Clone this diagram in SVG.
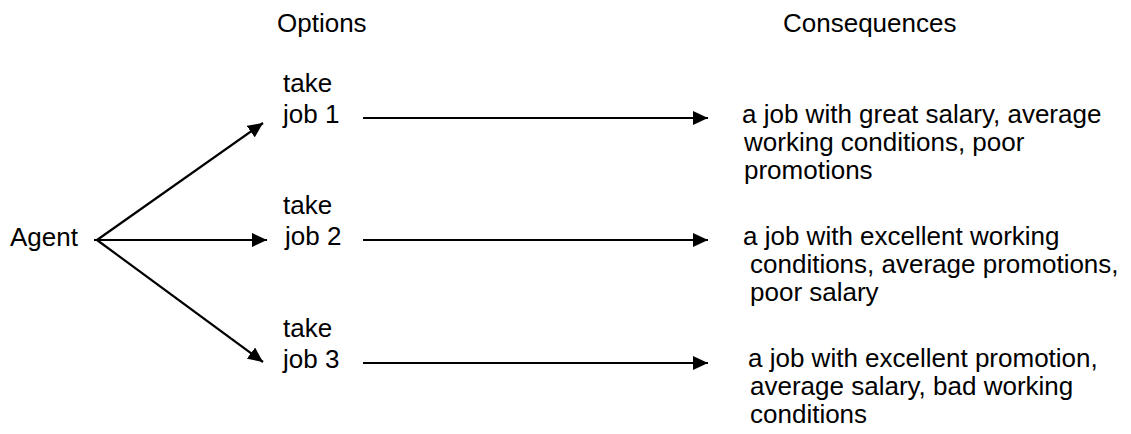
<svg xmlns="http://www.w3.org/2000/svg" width="1131" height="434" viewBox="0 0 1131 434">
  <style>
    text { font-family: "Liberation Sans", Arial, sans-serif; font-size: 26px; fill: #000; }
    .edge { stroke: #000; stroke-width: 2.2; fill: none; }
  </style>
  <defs>
    <marker id="arrow" viewBox="0 0 15 14" refX="15" refY="7" markerWidth="15" markerHeight="14" markerUnits="userSpaceOnUse" orient="auto">
      <path d="M0,0 L15,7 L0,14 z" fill="#000"/>
    </marker>
  </defs>
  <rect width="1131" height="434" fill="#fff"/>

  <!-- column headings -->
  <g id="headings">
    <text x="277" y="32">Options</text>
    <text x="783" y="32">Consequences</text>
  </g>

  <g id="agent">
    <text x="10" y="246">Agent</text>
  </g>

  <g id="option1">
    <text x="283" y="92">take</text>
    <text x="283" y="123">job 1</text>
  </g>
  <g id="option2">
    <text x="283" y="214">take</text>
    <text x="285" y="245">job 2</text>
  </g>
  <g id="option3">
    <text x="283" y="337">take</text>
    <text x="283" y="368">job 3</text>
  </g>

  <g id="consequence1">
    <text x="742" y="123">a job with great salary, average</text>
    <text x="744" y="151">working conditions, poor</text>
    <text x="744" y="179">promotions</text>
  </g>
  <g id="consequence2">
    <text x="743" y="245">a job with excellent working</text>
    <text x="750" y="273">conditions, average promotions,</text>
    <text x="750" y="301">poor salary</text>
  </g>
  <g id="consequence3">
    <text x="748" y="367">a job with excellent promotion,</text>
    <text x="750" y="395">average salary, bad working</text>
    <text x="750" y="423">conditions</text>
  </g>

  <!-- connectors -->
  <g id="connectors">
    <line class="edge" x1="97" y1="240" x2="263" y2="123" marker-end="url(#arrow)"/>
    <line class="edge" x1="94" y1="240" x2="267" y2="240" marker-end="url(#arrow)"/>
    <line class="edge" x1="97" y1="240" x2="263" y2="362" marker-end="url(#arrow)"/>
    <line class="edge" x1="363" y1="118" x2="708" y2="118" marker-end="url(#arrow)"/>
    <line class="edge" x1="363" y1="240" x2="708" y2="240" marker-end="url(#arrow)"/>
    <line class="edge" x1="363" y1="363" x2="708" y2="363" marker-end="url(#arrow)"/>
  </g>
</svg>
